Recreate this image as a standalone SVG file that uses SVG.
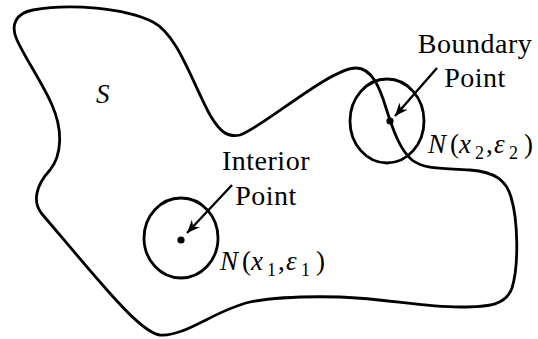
<svg xmlns="http://www.w3.org/2000/svg" width="538" height="339" viewBox="0 0 538 339">
<style>
.ln{fill:none;stroke:#000;stroke-width:2.8;stroke-linecap:round;stroke-linejoin:round}
.ar{fill:none;stroke:#000;stroke-width:2.4}
text{font-family:'Liberation Serif','Times New Roman',serif;font-size:27px;fill:#000}
.lbl{font-size:28px;letter-spacing:0.5px}
.it{font-style:italic}
.sub{font-size:18px}
</style>
<defs>
<marker id="ah" viewBox="-13 -6 14 12" refX="0" refY="0" markerWidth="14" markerHeight="12" markerUnits="userSpaceOnUse" orient="auto">
<path d="M0,0 L-13,-5.5 L-9,0 L-13,5.5 Z" fill="#000"/>
</marker>
</defs>
<rect width="538" height="339" fill="#fff"/>
<g id="region-S">
<path class="ln" d="M 33,10 C 70,3 125,8 153,22 C 178,35 192,82 210,115 C 220,132 228,138 240,135 C 262,128 330,68 356,68 C 372,68 380,88 386,108 C 393,130 400,150 412,160 C 425,170 445,168 470,170 C 495,172 506,180 511,197 C 518,220 519,265 512,288 C 506,305 490,307 460,307 C 420,307 390,299 340,297 C 300,296 275,297 250,302 C 215,310 185,337 160,335 C 145,333 120,305 100,282 C 85,265 60,235 42,214 C 32,202 36,185 50,170 C 62,155 63,130 52,105 C 42,82 25,58 17,40 C 10,25 16,13 33,10 Z"/>
<text class="it" x="96" y="103">S</text>
</g>
<g id="interior-point">
<ellipse class="ln" cx="181" cy="238" rx="37" ry="40"/>
<circle cx="181" cy="240" r="3.6" fill="#000"/>
<text class="lbl" x="266" y="170" text-anchor="middle">Interior</text>
<text class="lbl" x="266" y="205" text-anchor="middle">Point</text>
<text><tspan class="it" x="220" y="270">N</tspan><tspan x="242" y="270">(</tspan><tspan class="it" x="251" y="270">x</tspan><tspan class="sub" x="267" y="276">1</tspan><tspan x="278" y="270">,</tspan><tspan class="it" x="286" y="270">ε</tspan><tspan class="sub" x="301" y="276">1</tspan><tspan x="316" y="270">)</tspan></text>
</g>
<g id="boundary-point">
<ellipse class="ln" cx="387" cy="121" rx="37" ry="42"/>
<circle cx="390" cy="121" r="3.6" fill="#000"/>
<text class="lbl" x="475" y="53" text-anchor="middle">Boundary</text>
<text class="lbl" x="475" y="87" text-anchor="middle">Point</text>
<text><tspan class="it" x="428" y="153">N</tspan><tspan x="450" y="153">(</tspan><tspan class="it" x="459" y="153">x</tspan><tspan class="sub" x="475" y="159">2</tspan><tspan x="486" y="153">,</tspan><tspan class="it" x="494" y="153">ε</tspan><tspan class="sub" x="509" y="159">2</tspan><tspan x="524" y="153">)</tspan></text>
</g>
<g id="connectors">
<line class="ar" x1="232" y1="185" x2="187" y2="233" marker-end="url(#ah)"/>
<line class="ar" x1="437" y1="68" x2="395" y2="116" marker-end="url(#ah)"/>
</g>
</svg>
